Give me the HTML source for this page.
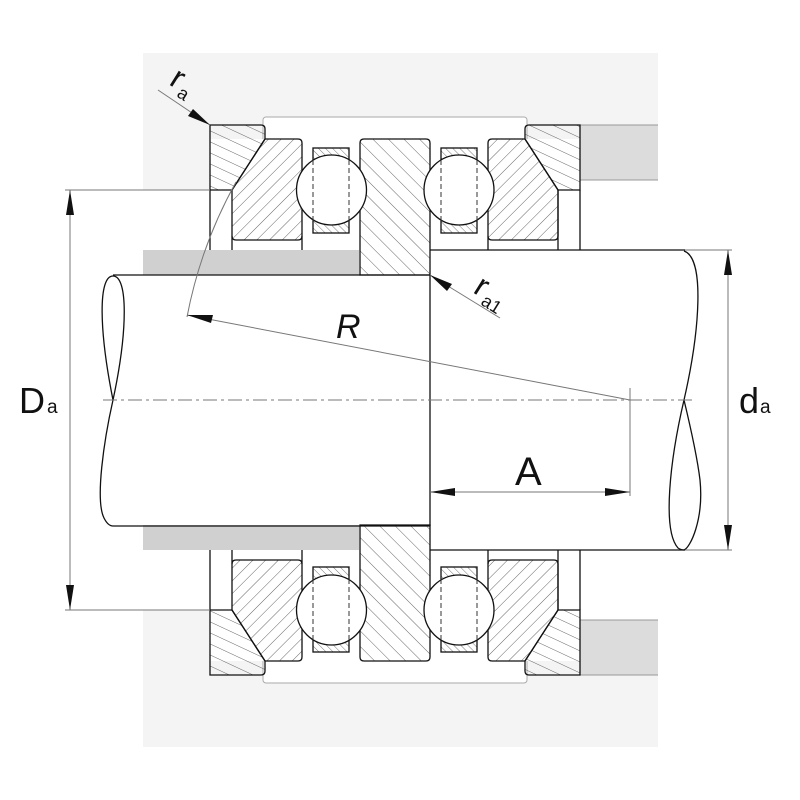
<!DOCTYPE html>
<html><head><meta charset="utf-8"><style>html,body{margin:0;padding:0;background:#fff}svg{display:block}text{font-family:"Liberation Sans",sans-serif;fill:#111}</style></head>
<body>
<svg width="800" height="800" viewBox="0 0 800 800" xmlns="http://www.w3.org/2000/svg">
<defs>
<pattern id="pA" width="10" height="10" patternUnits="userSpaceOnUse" patternTransform="rotate(-65)"><line x1="0" y1="0" x2="0" y2="10" stroke="#555" stroke-width="0.9"/></pattern>
<pattern id="pB" width="9" height="9" patternUnits="userSpaceOnUse" patternTransform="rotate(45)"><line x1="0" y1="0" x2="0" y2="9" stroke="#555" stroke-width="0.9"/></pattern>
<pattern id="pC" width="11" height="11" patternUnits="userSpaceOnUse" patternTransform="rotate(-45)"><line x1="0" y1="0" x2="0" y2="11" stroke="#555" stroke-width="0.9"/></pattern>
<pattern id="pD" width="5" height="5" patternUnits="userSpaceOnUse" patternTransform="rotate(-45)"><line x1="0" y1="0" x2="0" y2="5" stroke="#555" stroke-width="0.8"/></pattern>
<pattern id="qA" width="10" height="10" patternUnits="userSpaceOnUse" patternTransform="rotate(65)"><line x1="0" y1="0" x2="0" y2="10" stroke="#555" stroke-width="0.9"/></pattern>
<pattern id="qB" width="9" height="9" patternUnits="userSpaceOnUse" patternTransform="rotate(-45)"><line x1="0" y1="0" x2="0" y2="9" stroke="#555" stroke-width="0.9"/></pattern>
<pattern id="qC" width="11" height="11" patternUnits="userSpaceOnUse" patternTransform="rotate(45)"><line x1="0" y1="0" x2="0" y2="11" stroke="#555" stroke-width="0.9"/></pattern>
<pattern id="qD" width="5" height="5" patternUnits="userSpaceOnUse" patternTransform="rotate(45)"><line x1="0" y1="0" x2="0" y2="5" stroke="#555" stroke-width="0.8"/></pattern>
</defs>

<g>
<rect x="143" y="53" width="515" height="137" fill="#f4f4f4"/>
<rect x="580" y="180" width="78" height="10" fill="#fff"/>
<rect x="580" y="125" width="78" height="55" fill="#dcdcdc"/>
<line x1="580" y1="125" x2="658" y2="125" stroke="#999" stroke-width="1"/>
<line x1="580" y1="180" x2="658" y2="180" stroke="#999" stroke-width="1"/>
<rect x="263" y="117" width="264" height="60" rx="3" fill="#fff" stroke="#aaa" stroke-width="1"/>
<rect x="210" y="139" width="370" height="111" fill="#fff"/>
<line x1="143" y1="190" x2="210" y2="190" stroke="#777" stroke-width="1"/>
<rect x="143" y="250" width="216" height="25" fill="#d0d0d0"/>
<g stroke="#111" stroke-width="1.3" fill="none">
<line x1="210" y1="190" x2="210" y2="250"/><line x1="232" y1="236" x2="232" y2="250"/>
<line x1="302" y1="236" x2="302" y2="250"/><line x1="488" y1="236" x2="488" y2="250"/>
<line x1="558" y1="190" x2="558" y2="250"/><line x1="580" y1="190" x2="580" y2="250"/>
<line x1="430" y1="250" x2="685" y2="250"/>
</g>
<g stroke="#111" stroke-width="1.3">
<path d="M210,125 H261 Q265,125 265,129 V139 L232,190 H210 Z" fill="url(#pA)"/>
<path d="M529,125 H580 V190 H558 L525,139 V129 Q525,125 529,125 Z" fill="url(#pA)"/>
<path d="M265,139 H298 Q302,139 302,143 V236 Q302,240 298,240 H236 Q232,240 232,236 V190 Z" fill="url(#pB)"/>
<path d="M492,139 H525 L558,190 V236 Q558,240 554,240 H492 Q488,240 488,236 V143 Q488,139 492,139 Z" fill="url(#pB)"/>
<path d="M364,139 H426 Q430,139 430,143 V275 H360 V143 Q360,139 364,139 Z" fill="url(#pC)"/>
<rect x="313" y="148" width="36" height="85" fill="url(#pD)"/>
<rect x="441" y="148" width="36" height="85" fill="url(#pD)"/>
<circle cx="331.5" cy="190" r="35" fill="#fff"/>
<circle cx="459" cy="190" r="35" fill="#fff"/>
</g>
<g stroke="#333" stroke-width="1" stroke-dasharray="5,3">
<line x1="313" y1="160" x2="313" y2="221"/><line x1="349" y1="160" x2="349" y2="221"/>
<line x1="441" y1="160" x2="441" y2="221"/><line x1="477" y1="160" x2="477" y2="221"/>
</g>
</g>

<g transform="translate(0,800) scale(1,-1)">
<rect x="143" y="53" width="515" height="137" fill="#f4f4f4"/>
<rect x="580" y="180" width="78" height="10" fill="#fff"/>
<rect x="580" y="125" width="78" height="55" fill="#dcdcdc"/>
<line x1="580" y1="125" x2="658" y2="125" stroke="#999" stroke-width="1"/>
<line x1="580" y1="180" x2="658" y2="180" stroke="#999" stroke-width="1"/>
<rect x="263" y="117" width="264" height="60" rx="3" fill="#fff" stroke="#aaa" stroke-width="1"/>
<rect x="210" y="139" width="370" height="111" fill="#fff"/>
<line x1="143" y1="190" x2="210" y2="190" stroke="#777" stroke-width="1"/>
<rect x="143" y="250" width="216" height="25" fill="#d0d0d0"/>
<g stroke="#111" stroke-width="1.3" fill="none">
<line x1="210" y1="190" x2="210" y2="250"/><line x1="232" y1="236" x2="232" y2="250"/>
<line x1="302" y1="236" x2="302" y2="250"/><line x1="488" y1="236" x2="488" y2="250"/>
<line x1="558" y1="190" x2="558" y2="250"/><line x1="580" y1="190" x2="580" y2="250"/>
<line x1="430" y1="250" x2="685" y2="250"/>
</g>
<g stroke="#111" stroke-width="1.3">
<path d="M210,125 H261 Q265,125 265,129 V139 L232,190 H210 Z" fill="url(#qA)"/>
<path d="M529,125 H580 V190 H558 L525,139 V129 Q525,125 529,125 Z" fill="url(#qA)"/>
<path d="M265,139 H298 Q302,139 302,143 V236 Q302,240 298,240 H236 Q232,240 232,236 V190 Z" fill="url(#qB)"/>
<path d="M492,139 H525 L558,190 V236 Q558,240 554,240 H492 Q488,240 488,236 V143 Q488,139 492,139 Z" fill="url(#qB)"/>
<path d="M364,139 H426 Q430,139 430,143 V275 H360 V143 Q360,139 364,139 Z" fill="url(#qC)"/>
<rect x="313" y="148" width="36" height="85" fill="url(#qD)"/>
<rect x="441" y="148" width="36" height="85" fill="url(#qD)"/>
<circle cx="331.5" cy="190" r="35" fill="#fff"/>
<circle cx="459" cy="190" r="35" fill="#fff"/>
</g>
<g stroke="#333" stroke-width="1" stroke-dasharray="5,3">
<line x1="313" y1="160" x2="313" y2="221"/><line x1="349" y1="160" x2="349" y2="221"/>
<line x1="441" y1="160" x2="441" y2="221"/><line x1="477" y1="160" x2="477" y2="221"/>
</g>
</g>

<g stroke="#111" stroke-width="1.3" fill="none">
<line x1="113" y1="275" x2="430" y2="275"/>
<line x1="113" y1="526" x2="430" y2="526"/>
<line x1="430" y1="275" x2="430" y2="526"/>
<path d="M113,276 C128,276 128,330 113,400 C99,330 98,276 113,276 Z"/>
<path d="M113,400 C104,440 95,500 104,518 C107,524 110,526 113,526"/>
<path d="M684,251 C705,258 700,330 684,400 C670,460 662,530 678,548 C681,550 684,550 684,550 C690,548 704,520 700,480 C697,455 690,425 684,400"/>
</g>
<line x1="103" y1="400" x2="694" y2="400" stroke="#777" stroke-width="1" stroke-dasharray="14,4,3,4"/>

<g stroke="#777" stroke-width="1" fill="none">
<line x1="65" y1="190" x2="210" y2="190"/>
<line x1="65" y1="610" x2="210" y2="610"/>
<line x1="70" y1="190" x2="70" y2="610"/>
<line x1="685" y1="250" x2="732" y2="250"/>
<line x1="685" y1="550" x2="732" y2="550"/>
<line x1="728" y1="250" x2="728" y2="550"/>
<line x1="630" y1="388" x2="630" y2="496"/>
<line x1="430" y1="492" x2="630" y2="492"/>
<line x1="187" y1="315" x2="630" y2="400"/>
<path d="M236,182 A452,452 0 0 0 187,317"/>
<line x1="430" y1="275" x2="500" y2="318"/>
<line x1="158" y1="90" x2="210" y2="125"/>
</g>
<g fill="#111">
<polygon points="70,190 66,215 74,215"/>
<polygon points="70,610 66,585 74,585"/>
<polygon points="728,250 724,275 732,275"/>
<polygon points="728,550 724,525 732,525"/>
<polygon points="430,492 455,488 455,496"/>
<polygon points="630,492 605,488 605,496"/>
<polygon points="187,315 213,315 211,323"/>
<polygon points="430,275 452,284 447,291"/>
<polygon points="210,125 188,116 193,109"/>
</g>

<text x="19" y="413" font-size="36">D</text><text x="47" y="413" font-size="19">a</text>
<text x="739" y="413" font-size="36">d</text><text x="760" y="413" font-size="19">a</text>
<text x="515" y="485" font-size="40">A</text>
<text x="336" y="338" font-size="34" font-style="italic">R</text>
<g transform="translate(472,292) rotate(32)"><text x="0" y="0" font-size="32">r</text><text x="13" y="6" font-size="18">a1</text></g>
<g transform="translate(168,84) rotate(32)"><text x="0" y="0" font-size="32">r</text><text x="13" y="6" font-size="18">a</text></g>
</svg>
</body></html>
